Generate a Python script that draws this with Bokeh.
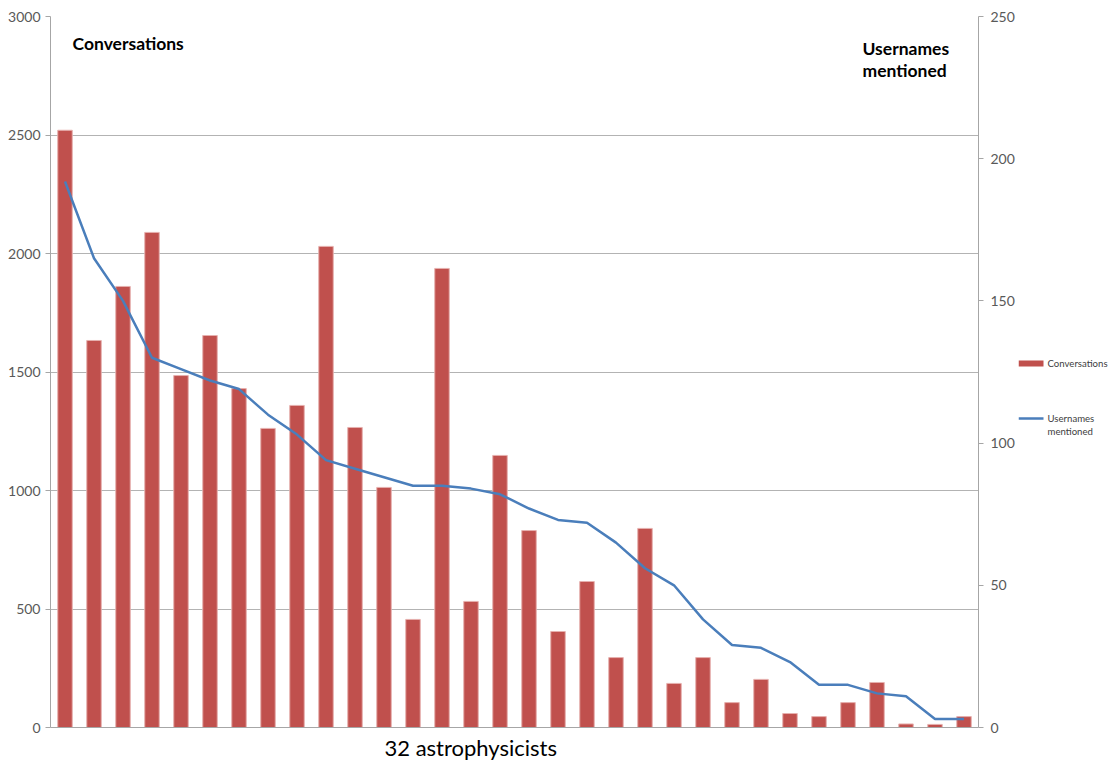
from bokeh.plotting import figure
from bokeh.models import Range1d, LinearAxis, Label, FixedTicker, ColumnDataSource, Title
from bokeh.layouts import row
from bokeh.core.properties import value
from bokeh.embed import file_html
from bokeh.resources import INLINE

# Data
astrophysicists = list(range(1, 33))
conversations = [2520, 1633, 1861, 2089, 1485, 1654, 1430, 1262, 1359, 2030, 1266, 1013,
                 456, 1937, 532, 1148, 831, 405, 616, 295, 840, 186, 295, 105,
                 203, 59, 46, 105, 190, 15, 13, 46]
usernames_mentioned = [192, 165, 150, 130, 126, 122, 119, 110, 103, 94, 91, 88,
                       85, 85, 84, 82, 77, 73, 72, 65, 56, 50, 38, 29,
                       28, 23, 15, 15, 12, 11, 3, 3]
left_ticks = [0, 500, 1000, 1500, 2000, 2500, 3000]
right_ticks = [0, 50, 100, 150, 200, 250]
legend_labels = ["Conversations", "Usernames", "mentioned"]

FONT = "Lato"
GRAY_TXT = "#595959"
AXIS_GRAY = "#A6A6A6"
BAR_COLOR = "#C0504D"
LINE_COLOR = "#4A7EBB"

src = ColumnDataSource(dict(x=astrophysicists, conv=conversations, users=usernames_mentioned))

p = figure(frame_width=928, frame_height=711,
           x_range=Range1d(0.5, 32.5), y_range=Range1d(0, 3000),
           output_backend="svg", toolbar_location=None,
           min_border_left=50, min_border_right=40, min_border_top=16, min_border_bottom=30)
p.outline_line_color = None
p.background_fill_color = "white"
p.border_fill_color = "white"

p.extra_y_ranges = {"right": Range1d(0, 250)}

bars = p.vbar(x="x", top="conv", width=0.5, source=src,
              fill_color=BAR_COLOR, line_color="#E6B0AE", line_width=1)
line = p.line(x="x", y="users", source=src, y_range_name="right",
              line_color=LINE_COLOR, line_width=2.5)

# Axes
p.xaxis.ticker = FixedTicker(ticks=[])
p.xaxis.major_tick_line_color = None
p.xaxis.minor_tick_line_color = None
p.xaxis.axis_line_color = AXIS_GRAY
p.xaxis.major_label_text_font_size = "0px"

yl = p.yaxis[0]
yl.ticker = FixedTicker(ticks=left_ticks)
yl.axis_line_color = AXIS_GRAY
yl.major_tick_line_color = AXIS_GRAY
yl.major_tick_in = 0
yl.major_tick_out = 5
yl.minor_tick_line_color = None
yl.major_label_text_font = FONT
yl.major_label_text_font_size = "14px"
yl.major_label_text_color = GRAY_TXT
yl.major_label_standoff = 5

yr = LinearAxis(y_range_name="right", ticker=FixedTicker(ticks=right_ticks))
yr.axis_line_color = AXIS_GRAY
yr.major_tick_line_color = AXIS_GRAY
yr.major_tick_in = 0
yr.major_tick_out = 5
yr.minor_tick_line_color = None
yr.major_label_text_font = FONT
yr.major_label_text_font_size = "14px"
yr.major_label_text_color = GRAY_TXT
yr.major_label_standoff = 7
p.add_layout(yr, "right")

p.xgrid.grid_line_color = None
p.ygrid.ticker = FixedTicker(ticks=left_ticks)
p.ygrid.grid_line_color = "#B3B3B3"
p.ygrid.grid_line_width = 1

# Annotations
p.add_layout(Label(x=1.26, y=2930, text="Conversations", text_font=FONT,
                   text_font_style="bold", text_font_size="17.5px", text_color="black",
                   text_baseline="top"))
p.add_layout(Label(x=28.5, y=2910, text="Usernames", text_font=FONT,
                   text_font_style="bold", text_font_size="17.5px", text_color="black",
                   text_baseline="top"))
p.add_layout(Label(x=28.5, y=2817, text="mentioned", text_font=FONT,
                   text_font_style="bold", text_font_size="17.5px", text_color="black",
                   text_baseline="top"))

p.add_layout(Title(text="32 astrophysicists", align="left", offset=334,
                   text_font=FONT, text_font_size="22px", text_font_style="normal",
                   text_color="black", standoff=8), "below")

# Legend panel (separate figure, pixel-like coordinates from top)
LH = 740
lg = figure(frame_width=92, frame_height=LH, x_range=Range1d(0, 92), y_range=Range1d(LH, 0),
            output_backend="svg", toolbar_location=None,
            min_border_left=0, min_border_right=0, min_border_top=0, min_border_bottom=0)
lg.axis.visible = False
lg.grid.grid_line_color = None
lg.outline_line_color = None
lg.title.visible = False
lg.quad(left=[0], right=[25], top=[344], bottom=[350], fill_color=BAR_COLOR, line_color=None)
lg.line(x=[0, 25], y=[402, 402], line_color=LINE_COLOR, line_width=2.5)
lg.text(x=[29, 29, 29], y=[347, 402, 415], text=legend_labels,
        text_font=value(FONT), text_font_size="9.6px", text_color="#404040",
        text_baseline="middle", text_align="left")

layout = row(p, lg, spacing=0)
open("out.html", "w").write(file_html(layout, INLINE))
